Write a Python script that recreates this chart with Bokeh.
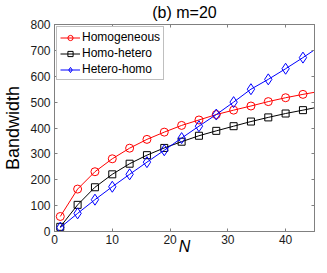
from bokeh.plotting import figure
from bokeh.models import (Range1d, LinearAxis, FixedTicker, Legend,
                          LegendItem, CustomJSTickFormatter)
from bokeh.embed import file_html
from bokeh.resources import INLINE

# ---- data ----
N = [1, 4, 7, 10, 13, 16, 19, 22, 25, 28, 31, 34, 37, 40, 43]
homogeneous = [58, 164, 231, 281, 322, 356, 384, 410, 431, 452, 469, 485, 502, 517, 530]
homo_hetero = [18, 103, 171, 221, 262, 295, 323, 347, 370, 389, 407, 425, 441, 456, 469]
hetero_homo = [15, 70, 123, 173, 221, 268, 314, 361, 407, 452, 500, 550, 588, 629, 672]
# line continuation to the right edge of the axes
N_edge = 45
homogeneous_edge = 538
homo_hetero_edge = 478
hetero_homo_edge = 702

x_ticks = [0, 10, 20, 30, 40]
y_ticks = [0, 100, 200, 300, 400, 500, 600, 700, 800]
series_names = ["Homogeneous", "Homo-hetero", "Hetero-homo"]
title_text = "(b) m=20"
x_label = "N"
y_label = "Bandwidth"

FONT = "Liberation Sans"
GREY = "#808080"

p = figure(width=319, height=257, output_backend="svg", toolbar_location=None,
           title=None, x_range=Range1d(0, 45), y_range=Range1d(0, 800),
           min_border_left=49, min_border_right=5, min_border_top=20,
           min_border_bottom=23)
p.xgrid.visible = False
p.ygrid.visible = False
p.outline_line_color = GREY
p.outline_line_width = 1
p.background_fill_color = "white"
p.border_fill_color = "white"

for ax, tk in ((p.xaxis[0], x_ticks), (p.yaxis[0], y_ticks)):
    ax.ticker = FixedTicker(ticks=tk)
    ax.major_tick_in = 3
    ax.major_tick_out = 0
    ax.minor_tick_in = 0
    ax.minor_tick_out = 0
    ax.axis_line_color = GREY
    ax.major_tick_line_color = GREY
    ax.major_label_text_font = FONT
    ax.major_label_text_font_size = "12px"
    ax.major_label_text_color = "#1a1a1a"
    ax.axis_label_text_font = FONT
    ax.axis_label_text_color = "#000000"

xa = p.xaxis[0]
xa.major_label_standoff = 3
xa.axis_label = x_label
xa.axis_label_text_font_style = "italic"
xa.axis_label_text_font_size = "16px"
xa.axis_label_standoff = -9

ya = p.yaxis[0]
ya.major_label_standoff = 4
ya.axis_label = y_label
ya.axis_label_text_font_style = "normal"
ya.axis_label_text_font_size = "18px"
ya.axis_label_standoff = 4

blank = CustomJSTickFormatter(code="return ''")
top = LinearAxis(ticker=FixedTicker(ticks=x_ticks), formatter=blank,
                 major_tick_in=3, major_tick_out=0, minor_tick_in=0, minor_tick_out=0,
                 axis_line_color=GREY, major_tick_line_color=GREY,
                 major_label_text_font_size="0px", major_label_standoff=0,
                 axis_label=title_text, axis_label_text_font=FONT,
                 axis_label_text_font_size="16px",
                 axis_label_text_font_style="normal",
                 axis_label_text_color="#000000", axis_label_standoff=4)
right = LinearAxis(ticker=FixedTicker(ticks=y_ticks), formatter=blank,
                   major_tick_in=3, major_tick_out=0, minor_tick_in=0, minor_tick_out=0,
                   axis_line_color=GREY, major_tick_line_color=GREY,
                   major_label_text_font_size="0px", major_label_standoff=0)
p.add_layout(top, "above")
p.add_layout(right, "right")

items = []
specs = [
    (homogeneous, homogeneous_edge, "#ff0000", "circle", 8),
    (homo_hetero, homo_hetero_edge, "#000000", "square", 7),
    (hetero_homo, hetero_homo_edge, "#0000ff", "diamond", 11),
]
for name, (vals, edge, col, mk, sz) in zip(series_names, specs):
    lr = p.line(N + [N_edge], vals + [edge], line_color=col, line_width=1)
    sr = p.scatter(N, vals, marker=mk, size=sz, line_color=col, line_width=1,
                   fill_color=None)
    items.append(LegendItem(label=name, renderers=[lr, sr]))

legend = Legend(items=items, location="top_left", margin=2, padding=3,
                spacing=2, glyph_height=13, glyph_width=20, label_height=13,
                label_standoff=2, label_text_font=FONT,
                label_text_font_size="12px", label_text_color="#000000",
                border_line_color=GREY, border_line_width=1,
                background_fill_color="white", background_fill_alpha=1)
p.add_layout(legend, "center")

open("out.html", "w").write(file_html(p, INLINE))
